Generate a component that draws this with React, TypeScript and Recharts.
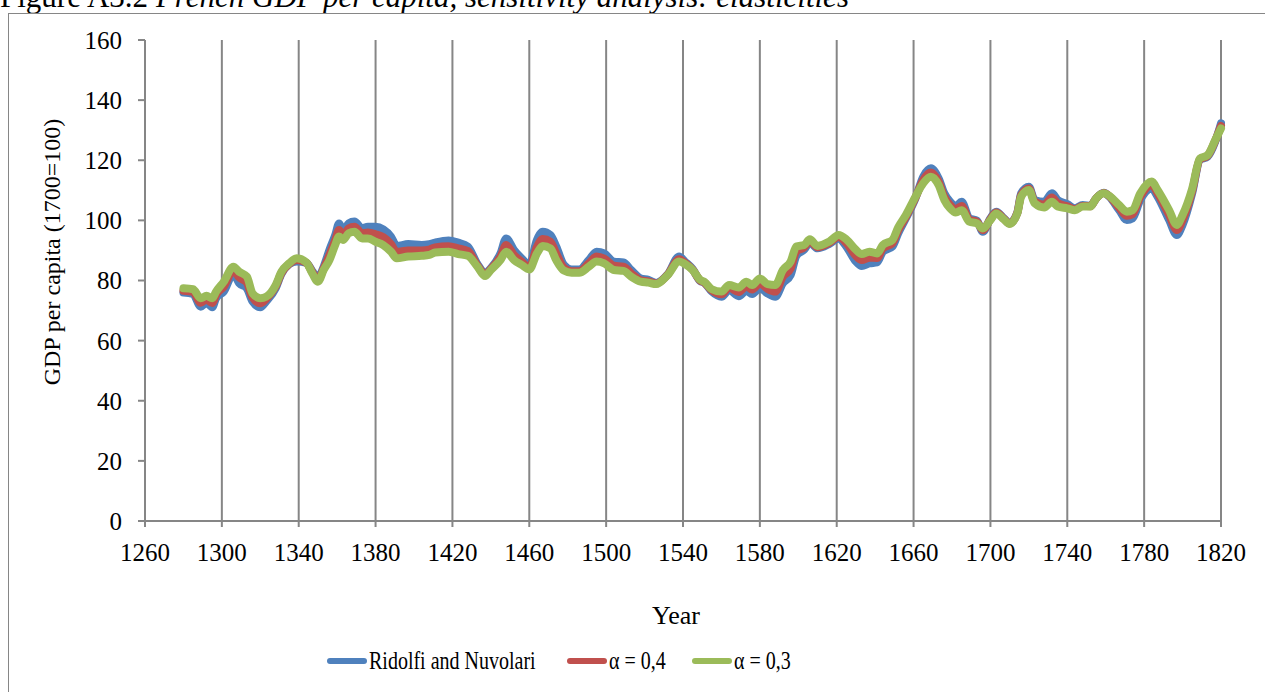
import { LineChart, Line, XAxis, YAxis, CartesianGrid } from "recharts";

const years = [
  1280, 1285, 1289, 1292, 1295, 1297, 1301, 1306, 1309, 1313, 1316, 1320, 1323, 1328, 1331, 1335, 1339,
  1344, 1347, 1350, 1353, 1356, 1359, 1361, 1363, 1366, 1369, 1373, 1376, 1380, 1384, 1388, 1391, 1397,
  1404, 1408, 1411, 1418, 1423, 1428, 1433, 1437, 1440, 1445, 1448, 1452, 1456, 1460, 1464, 1467, 1471,
  1474, 1478, 1482, 1486, 1491, 1495, 1499, 1504, 1509, 1513, 1518, 1522, 1526, 1532, 1538, 1541, 1545,
  1549, 1551, 1555, 1560, 1564, 1569, 1573, 1576, 1580, 1584, 1588, 1592, 1596, 1599, 1603, 1606, 1610,
  1616, 1621, 1625, 1630, 1633, 1637, 1641, 1644, 1649, 1652, 1656, 1661, 1665, 1669, 1673, 1676, 1679,
  1682, 1685, 1689, 1693, 1696, 1700, 1703, 1707, 1710, 1714, 1716, 1720, 1723, 1728, 1732, 1735, 1740,
  1744, 1748, 1752, 1755, 1759, 1762, 1767, 1771, 1774, 1778, 1784, 1787, 1793, 1797, 1800, 1805, 1809,
  1813, 1817, 1820,
];

// Ridolfi and Nuvolari
const ridolfi = [
  76.0, 75.5, 71.3, 72.6, 71.1, 74.1, 76.3, 82.2, 79.1, 77.4, 73.0, 71.1, 73.0, 77.4, 82.2, 85.4, 86.3,
  85.9, 83.2, 81.0, 84.6, 90.2, 95.1, 99.0, 96.2, 99.0, 99.6, 97.4, 97.9, 97.9, 97.0, 94.6, 91.5, 92.1,
  91.8, 92.1, 92.6, 93.3, 92.6, 91.3, 85.5, 82.5, 84.1, 89.0, 94.0, 90.2, 87.4, 85.2, 93.5, 96.2, 95.1,
  91.3, 85.2, 83.7, 83.7, 86.8, 89.6, 89.0, 86.3, 86.0, 83.5, 80.7, 80.2, 79.2, 82.0, 88.0, 86.3, 83.8,
  79.8, 79.3, 76.3, 74.6, 76.8, 74.8, 76.6, 75.5, 77.4, 75.7, 74.6, 79.1, 81.8, 88.2, 90.2, 92.6, 90.7,
  92.1, 94.0, 91.3, 86.3, 84.8, 85.7, 86.0, 89.6, 91.3, 95.7, 100.7, 107.4, 114.5, 117.3, 114.0, 109.0, 106.2,
  104.8, 106.2, 100.7, 99.9, 96.2, 100.7, 102.9, 100.7, 99.1, 102.6, 109.0, 111.2, 106.8, 106.2, 109.0, 106.8, 105.4,
  104.0, 105.1, 104.8, 107.3, 109.2, 107.8, 103.4, 100.1, 100.7, 106.8, 110.6, 107.9, 100.1, 95.1, 98.5, 109.0, 120.1,
  121.2, 126.2, 132.3,
];

// alpha = 0,4
const alpha04 = [
  76.6, 76.2, 72.6, 73.7, 72.5, 75.2, 78.0, 83.3, 81.0, 79.3, 74.3, 72.4, 73.8, 78.0, 82.5, 85.5, 86.8,
  85.9, 82.8, 80.3, 84.0, 88.5, 93.4, 96.8, 94.8, 97.3, 97.9, 95.7, 96.0, 95.4, 94.4, 92.1, 89.5, 90.0,
  90.0, 90.3, 91.0, 91.4, 90.7, 89.8, 85.0, 82.0, 83.8, 87.9, 91.8, 88.5, 86.3, 84.4, 91.2, 93.8, 92.9,
  89.0, 84.2, 83.1, 83.1, 85.7, 88.0, 87.3, 84.9, 84.6, 82.4, 80.1, 79.7, 79.0, 81.9, 87.1, 85.9, 83.6,
  80.0, 79.4, 76.7, 75.4, 77.6, 76.2, 78.1, 77.0, 79.0, 77.2, 76.3, 81.3, 84.0, 89.7, 91.0, 93.1, 91.1,
  92.5, 94.5, 92.5, 88.2, 86.8, 87.6, 87.5, 90.7, 92.4, 96.7, 101.2, 107.6, 113.4, 115.9, 112.9, 107.9, 105.1,
  103.7, 104.8, 100.2, 99.5, 96.8, 100.4, 102.6, 100.5, 99.0, 102.5, 108.4, 110.6, 106.2, 105.2, 107.6, 105.7, 104.7,
  103.7, 104.8, 104.7, 107.3, 109.1, 108.0, 104.2, 101.5, 102.1, 107.9, 111.8, 109.0, 101.8, 96.8, 100.1, 109.8, 120.3,
  121.5, 126.5, 131.4,
];

// alpha = 0,3
const alpha03 = [
  77.4, 77.1, 74.1, 74.9, 74.1, 76.3, 79.6, 84.6, 82.9, 81.3, 75.7, 74.1, 74.6, 78.5, 82.9, 85.7, 87.4,
  86.0, 82.4, 79.6, 83.5, 86.8, 91.8, 94.6, 93.5, 95.7, 96.2, 94.0, 94.0, 92.9, 91.8, 89.6, 87.4, 88.0,
  88.2, 88.5, 89.3, 89.6, 88.8, 88.2, 84.6, 81.5, 83.5, 86.8, 89.6, 86.8, 85.2, 83.7, 89.0, 91.5, 90.7,
  86.8, 83.3, 82.6, 82.6, 84.6, 86.3, 85.7, 83.5, 83.2, 81.3, 79.6, 79.3, 78.8, 81.8, 86.3, 85.5, 83.5,
  80.2, 79.6, 77.1, 76.3, 78.5, 77.7, 79.6, 78.5, 80.7, 78.8, 78.5, 83.5, 86.3, 91.3, 91.8, 93.7, 91.5,
  92.9, 95.1, 93.7, 90.2, 88.8, 89.6, 89.0, 91.8, 93.5, 97.7, 101.8, 107.9, 112.3, 114.5, 111.8, 106.8, 104.0,
  102.6, 103.4, 99.6, 99.0, 97.3, 100.1, 102.3, 100.3, 98.8, 102.3, 107.9, 110.1, 105.7, 104.3, 106.2, 104.6, 104.0,
  103.4, 104.6, 104.6, 107.3, 109.0, 108.1, 105.1, 102.9, 103.4, 109.0, 112.9, 110.1, 103.4, 98.5, 101.8, 110.6, 120.6,
  121.7, 126.7, 130.6,
];

const xTicks = [1260, 1300, 1340, 1380, 1420, 1460, 1500, 1540, 1580, 1620, 1660, 1700, 1740, 1780, 1820];
const yTicks = [0, 20, 40, 60, 80, 100, 120, 140, 160];

const seriesNames = ["Ridolfi and Nuvolari", "α = 0,4", "α = 0,3"];
const seriesColors = ["#4F81BD", "#C0504D", "#9BBB59"];

const data = years.map((year, i) => ({
  year,
  ridolfi: ridolfi[i],
  alpha04: alpha04[i],
  alpha03: alpha03[i],
}));

const FONT = '"Liberation Serif", "Times New Roman", serif';
const AXIS = "#868686";
// left edge of each legend swatch
const LEGEND_X = [327, 567, 692];

export default function App() {
  const tickStyle = { fontFamily: FONT, fontSize: 25, fill: "#000" };
  return (
    <div style={{ position: "relative", width: 1265, height: 692, overflow: "hidden", background: "#fff", fontFamily: FONT }}>
      <style>{`body{margin:0;overflow:hidden}`}</style>
      <div style={{ position: "absolute", left: 0, top: -19, fontSize: 31, lineHeight: 1, whiteSpace: "nowrap", color: "#000" }}>
        Figure A3.2 <i>French GDP per capita, sensitivity analysis: elasticities</i>
      </div>
      <div style={{ position: "absolute", left: 8, top: 13, width: 1300, height: 700, border: `1.5px solid ${AXIS}`, boxSizing: "border-box" }} />
      <div style={{ position: "absolute", left: 0, top: 0 }}>
        <LineChart width={1265} height={692} data={data} margin={{ top: 40, right: 44, left: 85, bottom: 131 }}>
          <CartesianGrid horizontal={false} stroke={AXIS} strokeWidth={2} />
          <XAxis
            type="number"
            dataKey="year"
            domain={[1260, 1820]}
            ticks={xTicks}
            interval={0}
            height={40}
            tickSize={6}
            tickMargin={16}
            stroke={AXIS}
            strokeWidth={2}
            tick={tickStyle}
          />
          <YAxis
            domain={[0, 160]}
            ticks={yTicks}
            interval={0}
            width={60}
            tickSize={7}
            tickMargin={16}
            stroke={AXIS}
            strokeWidth={2}
            tick={tickStyle}
          />
          <Line type="monotone" dataKey="ridolfi" stroke={seriesColors[0]} strokeWidth={8} dot={false} strokeLinecap="round" isAnimationActive={false} />
          <Line type="monotone" dataKey="alpha04" stroke={seriesColors[1]} strokeWidth={8} dot={false} strokeLinecap="round" isAnimationActive={false} />
          <Line type="monotone" dataKey="alpha03" stroke={seriesColors[2]} strokeWidth={8} dot={false} strokeLinecap="round" isAnimationActive={false} />
        </LineChart>
      </div>
      <div
        style={{
          position: "absolute",
          left: 52,
          top: 252,
          transform: "translate(-50%, -50%) rotate(-90deg)",
          fontSize: 24,
          whiteSpace: "nowrap",
        }}
      >
        GDP per capita (1700=100)
      </div>
      <div style={{ position: "absolute", left: 676, top: 616, transform: "translate(-50%, -50%)", fontSize: 26 }}>Year</div>
      {seriesNames.map((name, i) => (
        <div
          key={name}
          style={{ position: "absolute", left: LEGEND_X[i], top: 661, transform: "translateY(-50%)", display: "flex", alignItems: "center", whiteSpace: "nowrap" }}
        >
          <span style={{ display: "inline-block", width: 40, height: 6, borderRadius: 3, background: seriesColors[i], marginRight: 2 }} />
          <span style={{ display: "inline-block", fontSize: 25, transform: "scaleX(0.8)", transformOrigin: "left center" }}>{name}</span>
        </div>
      ))}
    </div>
  );
}
